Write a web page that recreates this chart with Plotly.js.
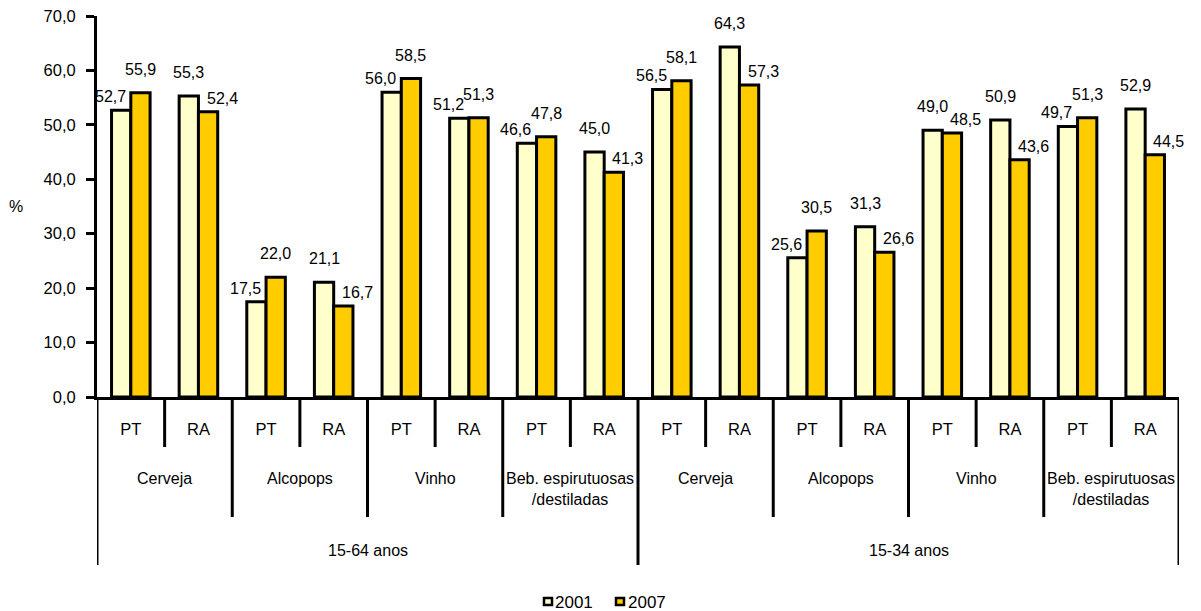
<!DOCTYPE html>
<html>
<head>
<meta charset="utf-8">
<script src="https://cdn.plot.ly/plotly-3.0.1.min.js"></script>
<style>
  html, body { margin: 0; padding: 0; background: #fff; }
  #chart { width: 1201px; height: 611px; }
</style>
</head>
<body>
<div id="chart"></div>
<script>
// Consumo de bebidas alcoólicas por tipo de bebida, grupo etário e região (%)
const ageGroups = ['15-64 anos', '15-34 anos'];
const drinks = ['Cerveja', 'Alcopops', 'Vinho', 'Beb. espirutuosas<br>/destiladas'];
const regions = ['PT', 'RA'];
const years = ['2001', '2007'];

// order: age group -> drink -> region
const values2001 = [52.7, 55.3, 17.5, 21.1, 56.0, 51.2, 46.6, 45.0,
                    56.5, 64.3, 25.6, 31.3, 49.0, 50.9, 49.7, 52.9];
const values2007 = [55.9, 52.4, 22.0, 16.7, 58.5, 51.3, 47.8, 41.3,
                    58.1, 57.3, 30.5, 26.6, 48.5, 43.6, 51.3, 44.5];

const yTicks = [0, 10, 20, 30, 40, 50, 60, 70];

const FONT = 'Liberation Sans, Arial, sans-serif';
const colors = ['#FFFFCC', '#FFCC00'];

// plot area in pixels
const W = 1201, H = 611;
const M = { l: 97, r: 22, t: 16, b: 214 };
const plotH = H - M.t - M.b;
const plotW = W - M.l - M.r;
const yPaper = px => (H - M.b - px) / plotH;   // page y -> paper y
const xPaper = px => (px - M.l) / plotW;       // page x -> paper x

const n = values2001.length;
const xs = Array.from({ length: n }, (_, i) => i);
const tickText = xs.map(i => regions[i % regions.length]);

const BARGAP = 0.43;
const half = (1 - BARGAP) / 4;   // half a bar, in category units

const fmt = v => v.toFixed(1).replace('.', ',');

const traces = [values2001, values2007].map((vals, k) => ({
  type: 'bar',
  name: years[k],
  x: xs,
  y: vals,
  marker: { color: colors[k], line: { color: '#000', width: 3 } },
  showlegend: false,
  hoverinfo: 'x+y'
}));

const annotations = [];
const shapes = [];

// value labels: the taller bar of a pair gets its label centred above,
// the shorter one is nudged outward
const labelFont = { family: FONT, size: 16, color: '#000' };
xs.forEach(i => {
  const a = values2001[i], b = values2007[i];
  annotations.push({
    x: i - half, y: a, xref: 'x', yref: 'y', text: fmt(a), showarrow: false,
    yanchor: 'bottom', xanchor: 'center',
    xshift: a <= b ? -11 : 0, yshift: a <= b ? 3 : 13,
    font: labelFont
  });
  annotations.push({
    x: i + half, y: b, xref: 'x', yref: 'y', text: fmt(b), showarrow: false,
    yanchor: 'bottom', xanchor: 'center',
    xshift: b < a ? 14 : 0, yshift: b < a ? 3 : 13,
    font: labelFont
  });
});

const line = (x, yBottomPx) => ({
  type: 'line', xref: 'x', yref: 'paper',
  x0: x, x1: x, y0: 0, y1: yPaper(yBottomPx),
  line: { color: '#000', width: 3 }
});

// region separators (inside each drink)
for (let g = 0; g < n / 2; g++) shapes.push(line(2 * g + 0.5, 447));
// drink separators and age-group separators
for (let g = 0; g <= n / 2; g++) {
  const isAge = g % drinks.length === 0;
  shapes.push(line(2 * g - 0.5, isAge ? 565 : 517));
}

// drink labels
for (let g = 0; g < n / 2; g++) {
  annotations.push({
    x: 2 * g + 0.5, y: yPaper(468), xref: 'x', yref: 'paper',
    text: drinks[g % drinks.length], showarrow: false,
    xanchor: 'center', yanchor: 'top',
    font: { family: FONT, size: 16, color: '#000' }
  });
}
// age group labels
ageGroups.forEach((lab, k) => {
  const per = n / ageGroups.length;
  annotations.push({
    x: k * per + (per - 1) / 2, y: yPaper(550), xref: 'x', yref: 'paper',
    text: lab, showarrow: false, xanchor: 'center', yanchor: 'middle',
    font: { family: FONT, size: 16, color: '#000' }
  });
});

// y axis title
annotations.push({
  x: xPaper(16), y: yPaper(207), xref: 'paper', yref: 'paper',
  text: '%', showarrow: false, xanchor: 'center', yanchor: 'middle',
  font: { family: FONT, size: 16, color: '#000' }
});

// legend
const legendItems = [{ sx: 543, tx: 553 }, { sx: 615, tx: 626 }];
years.forEach((yr, k) => {
  const it = legendItems[k];
  shapes.push({
    type: 'rect', xref: 'paper', yref: 'paper',
    x0: xPaper(it.sx + 1), x1: xPaper(it.sx + 9),
    y0: yPaper(598), y1: yPaper(605),
    fillcolor: colors[k], line: { color: '#000', width: 2.5 }
  });
  annotations.push({
    x: xPaper(it.tx), y: yPaper(602), xref: 'paper', yref: 'paper',
    text: yr, showarrow: false, xanchor: 'left', yanchor: 'middle',
    font: { family: FONT, size: 17, color: '#000' }
  });
});

const layout = {
  width: W, height: H,
  margin: M,
  paper_bgcolor: '#fff', plot_bgcolor: '#fff',
  separators: ', ',
  barmode: 'group',
  bargap: BARGAP,
  bargroupgap: 0,
  showlegend: false,
  font: { family: FONT, size: 16, color: '#000' },
  xaxis: {
    range: [-0.5, n - 0.5],
    tickvals: xs, ticktext: tickText,
    ticks: '', showgrid: false, zeroline: false,
    showline: true, linecolor: '#000', linewidth: 3,
    ticklabelstandoff: 15,
    tickfont: { family: FONT, size: 16.5, color: '#000' },
    fixedrange: true
  },
  yaxis: {
    range: [0, 70],
    tickvals: yTicks, tickformat: '.1f',
    ticks: 'outside', ticklen: 8, tickwidth: 3, tickcolor: '#000',
    ticklabelstandoff: 7,
    showgrid: false, zeroline: false,
    showline: true, linecolor: '#000', linewidth: 3,
    tickfont: { family: FONT, size: 16.5, color: '#000' },
    fixedrange: true
  },
  annotations, shapes
};

Plotly.newPlot('chart', traces, layout, { displayModeBar: false, staticPlot: true });
</script>
</body>
</html>
